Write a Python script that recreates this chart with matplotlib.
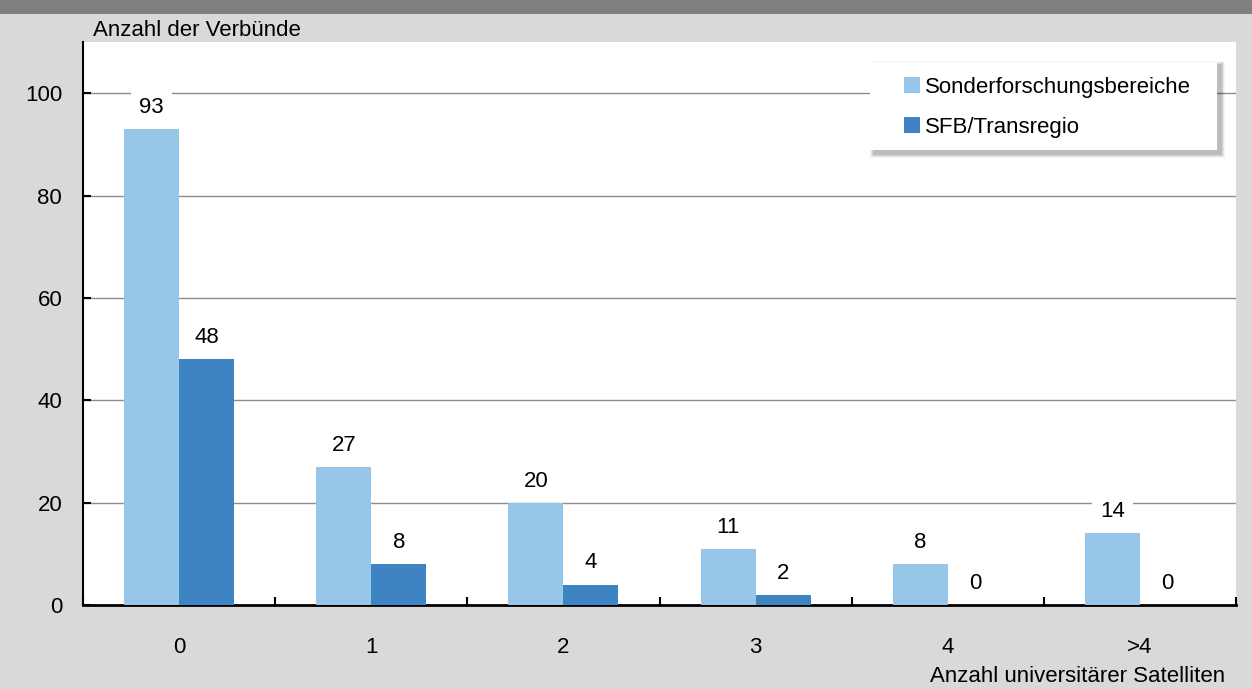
import matplotlib
matplotlib.use("Agg")
import matplotlib.pyplot as plt
from matplotlib.patches import Rectangle
import numpy as np

categories = ["0", "1", "2", "3", "4", ">4"]
sfb = [93, 27, 20, 11, 8, 14]
trr = [48, 8, 4, 2, 0, 0]
series_names = ["Sonderforschungsbereiche", "SFB/Transregio"]
y_ticks = [0, 20, 40, 60, 80, 100]

plt.rcParams['font.family'] = ['Liberation Sans', 'DejaVu Sans']
FS = 16

light = "#97c6e8"
dark = "#3e83c2"
bg = "#d9d9d9"

fig = plt.figure(figsize=(12.52, 6.89), dpi=100, facecolor=bg)
W, H = 1252, 689
# title band
fig.patches.append(Rectangle((0, 1 - 14 / H), 1, 14 / H, transform=fig.transFigure,
                             facecolor="#808080", edgecolor="none", zorder=0))
AX_L, AX_R, AX_T, AX_B = 83, 1236, 42, 605
ax = fig.add_axes([AX_L / W, 1 - AX_B / H, (AX_R - AX_L) / W, (AX_B - AX_T) / H])
ax.set_facecolor("white")

def axc(px, py):
    return ((px - AX_L) / (AX_R - AX_L), (AX_B - py) / (AX_B - AX_T))

x = np.arange(len(categories))
bw = 0.286
b1 = ax.bar(x - bw / 2, sfb, bw, color=light, label=series_names[0], zorder=3)
b2 = ax.bar(x + bw / 2, trr, bw, color=dark, label=series_names[1], zorder=3)

for bars, vals in ((b1, sfb), (b2, trr)):
    for r, v in zip(bars, vals):
        ax.annotate(str(v), (r.get_x() + r.get_width() / 2, v), xytext=(0, 8),
                    textcoords="offset points", ha="center", va="bottom", fontsize=FS,
                    bbox=dict(facecolor="white", edgecolor="none", pad=6), zorder=5)

ax.set_xlim(-0.5, len(categories) - 0.5)
ax.set_ylim(0, 110)
ax.set_yticks(y_ticks)
ax.set_yticklabels([str(t) for t in y_ticks], fontsize=FS)
ax.tick_params(axis="y", direction="in", length=6, width=1.5, pad=15)
ax.set_xticks(x)
ax.set_xticklabels(categories, fontsize=FS)
ax.tick_params(axis="x", which="major", length=0, pad=23)
ax.set_xticks(np.arange(-0.5, len(categories)), minor=True)
ax.tick_params(axis="x", which="minor", direction="in", length=6, width=1.5, color="black")

for t in y_ticks[1:]:
    ax.axhline(t, color="#8c8c8c", lw=1, zorder=1)

for s in ["top", "right"]:
    ax.spines[s].set_visible(False)
ax.spines["left"].set_linewidth(1.5)
ax.spines["bottom"].set_linewidth(2)

# legend box with soft shadow
x0, y0 = axc(870, 150)
x1, y1 = axc(1217, 62)
for i, a in enumerate([0.04, 0.06, 0.08, 0.10]):
    d = 4 - i
    sx, sy = 3.5 / (AX_R - AX_L), 3.5 / (AX_B - AX_T)
    gx, gy = d / (AX_R - AX_L), d / (AX_B - AX_T)
    ax.add_patch(Rectangle((x0 + sx - gx, y0 - sy - gy), (x1 - x0) + 2 * gx, (y1 - y0) + 2 * gy,
                           transform=ax.transAxes, facecolor="black", alpha=a,
                           edgecolor="none", zorder=8, clip_on=False))
ax.add_patch(Rectangle((x0, y0), x1 - x0, y1 - y0, transform=ax.transAxes,
                       facecolor="white", edgecolor="none", zorder=9, clip_on=False))

leg = ax.legend(loc="upper left", bbox_to_anchor=axc(904, 77),
                fontsize=FS, frameon=False, handlelength=0.7,
                handleheight=0.7, handletextpad=0.25, borderpad=0, labelspacing=0.85,
                borderaxespad=0)
leg.set_zorder(10)

fig.text(93 / W, 1 - 30 / H, "Anzahl der Verbünde", fontsize=FS, ha="left", va="center")
fig.text(1225 / W, 1 - 677 / H, "Anzahl universitärer Satelliten", fontsize=FS,
         ha="right", va="center")

fig.savefig("out.png", dpi=100, facecolor=bg)
